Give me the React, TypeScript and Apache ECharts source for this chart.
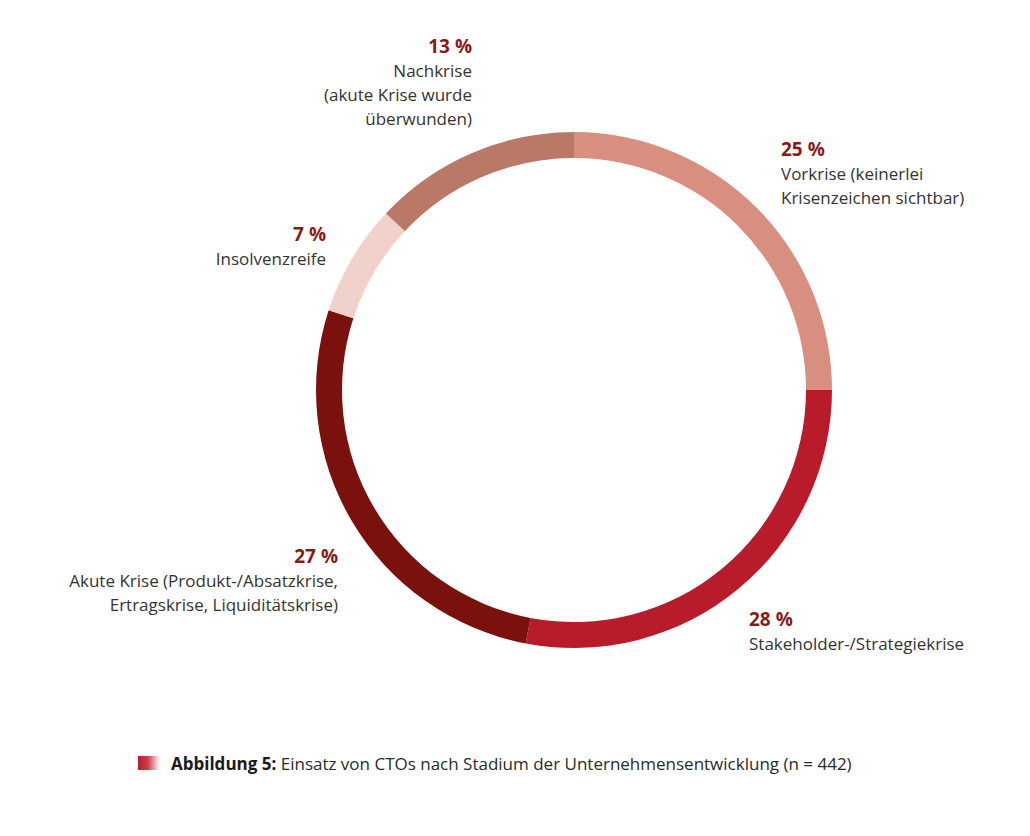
import React, { useEffect, useRef } from "react";
import * as echarts from "echarts";

const categories = [
  "Vorkrise (keinerlei\nKrisenzeichen sichtbar)",
  "Stakeholder-/Strategiekrise",
  "Akute Krise (Produkt-/Absatzkrise,\nErtragskrise, Liquiditätskrise)",
  "Insolvenzreife",
  "Nachkrise\n(akute Krise wurde\nüberwunden)",
];
const values = [25, 28, 27, 7, 13];
const colors = ["#D98F80", "#B81C2A", "#7B110D", "#F0D2CA", "#BA7966"];
const captionBold = "Abbildung 5:";
const captionText = " Einsatz von CTOs nach Stadium der Unternehmensentwicklung (n = 442)";

// label anchor positions (layout only)
const labelPos: { x: number; y: number; align: "left" | "right" }[] = [
  { x: 781, y: 136, align: "left" },
  { x: 749, y: 606, align: "left" },
  { x: 338, y: 543, align: "right" },
  { x: 326, y: 221, align: "right" },
  { x: 472, y: 33, align: "right" },
];

const FONT = "'Open Sans', 'Noto Sans', sans-serif";

export default function App() {
  const ref = useRef<HTMLDivElement>(null);
  useEffect(() => {
    if (!ref.current) return;
    const chart = echarts.init(ref.current, undefined, { renderer: "svg" });
    const labelGraphics = categories.map((c, i) => ({
      type: "text",
      x: labelPos[i].x,
      y: labelPos[i].y,
      style: {
        text: `{p|${values[i]} %}\n` + c.split("\n").map((l) => `{t|${l}}`).join("\n"),
        align: labelPos[i].align,
        verticalAlign: "top",
        rich: {
          p: { fontFamily: FONT, fontSize: 19, fontWeight: "bold", fill: "#8A1A17", lineHeight: 25 },
          t: { fontFamily: FONT, fontSize: 17, fill: "#333333", lineHeight: 24 },
        },
      },
    }));
    chart.setOption({
      animation: false,
      backgroundColor: "#ffffff",
      series: [
        {
          type: "pie",
          center: [574, 390],
          radius: [232, 258],
          startAngle: 90,
          clockwise: true,
          label: { show: false },
          labelLine: { show: false },
          itemStyle: { borderWidth: 0 },
          emphasis: { disabled: true },
          data: categories.map((c, i) => ({ name: c, value: values[i], itemStyle: { color: colors[i] } })),
        },
      ],
      graphic: [
        ...labelGraphics,
        {
          type: "rect",
          shape: { x: 138, y: 756, width: 22, height: 14 },
          style: {
            fill: new echarts.graphic.LinearGradient(0, 0, 1, 0, [
              { offset: 0, color: "#B81C2A" },
              { offset: 0.45, color: "#C8404A" },
              { offset: 1, color: "#ffffff" },
            ]),
          },
        },
        {
          type: "text",
          x: 171,
          y: 763,
          style: {
            text: `{b|${captionBold}}{n|${captionText}}`,
            verticalAlign: "middle",
            rich: {
              b: { fontFamily: FONT, fontSize: 17, fontWeight: "bold", fill: "#1a1a1a" },
              n: { fontFamily: FONT, fontSize: 17, fill: "#2a2a2a" },
            },
          },
        },
      ],
    });
    return () => chart.dispose();
  }, []);
  return (
    <div
      ref={ref}
      style={{ position: "absolute", left: 0, top: 0, width: 1030, height: 836 }}
    />
  );
}
